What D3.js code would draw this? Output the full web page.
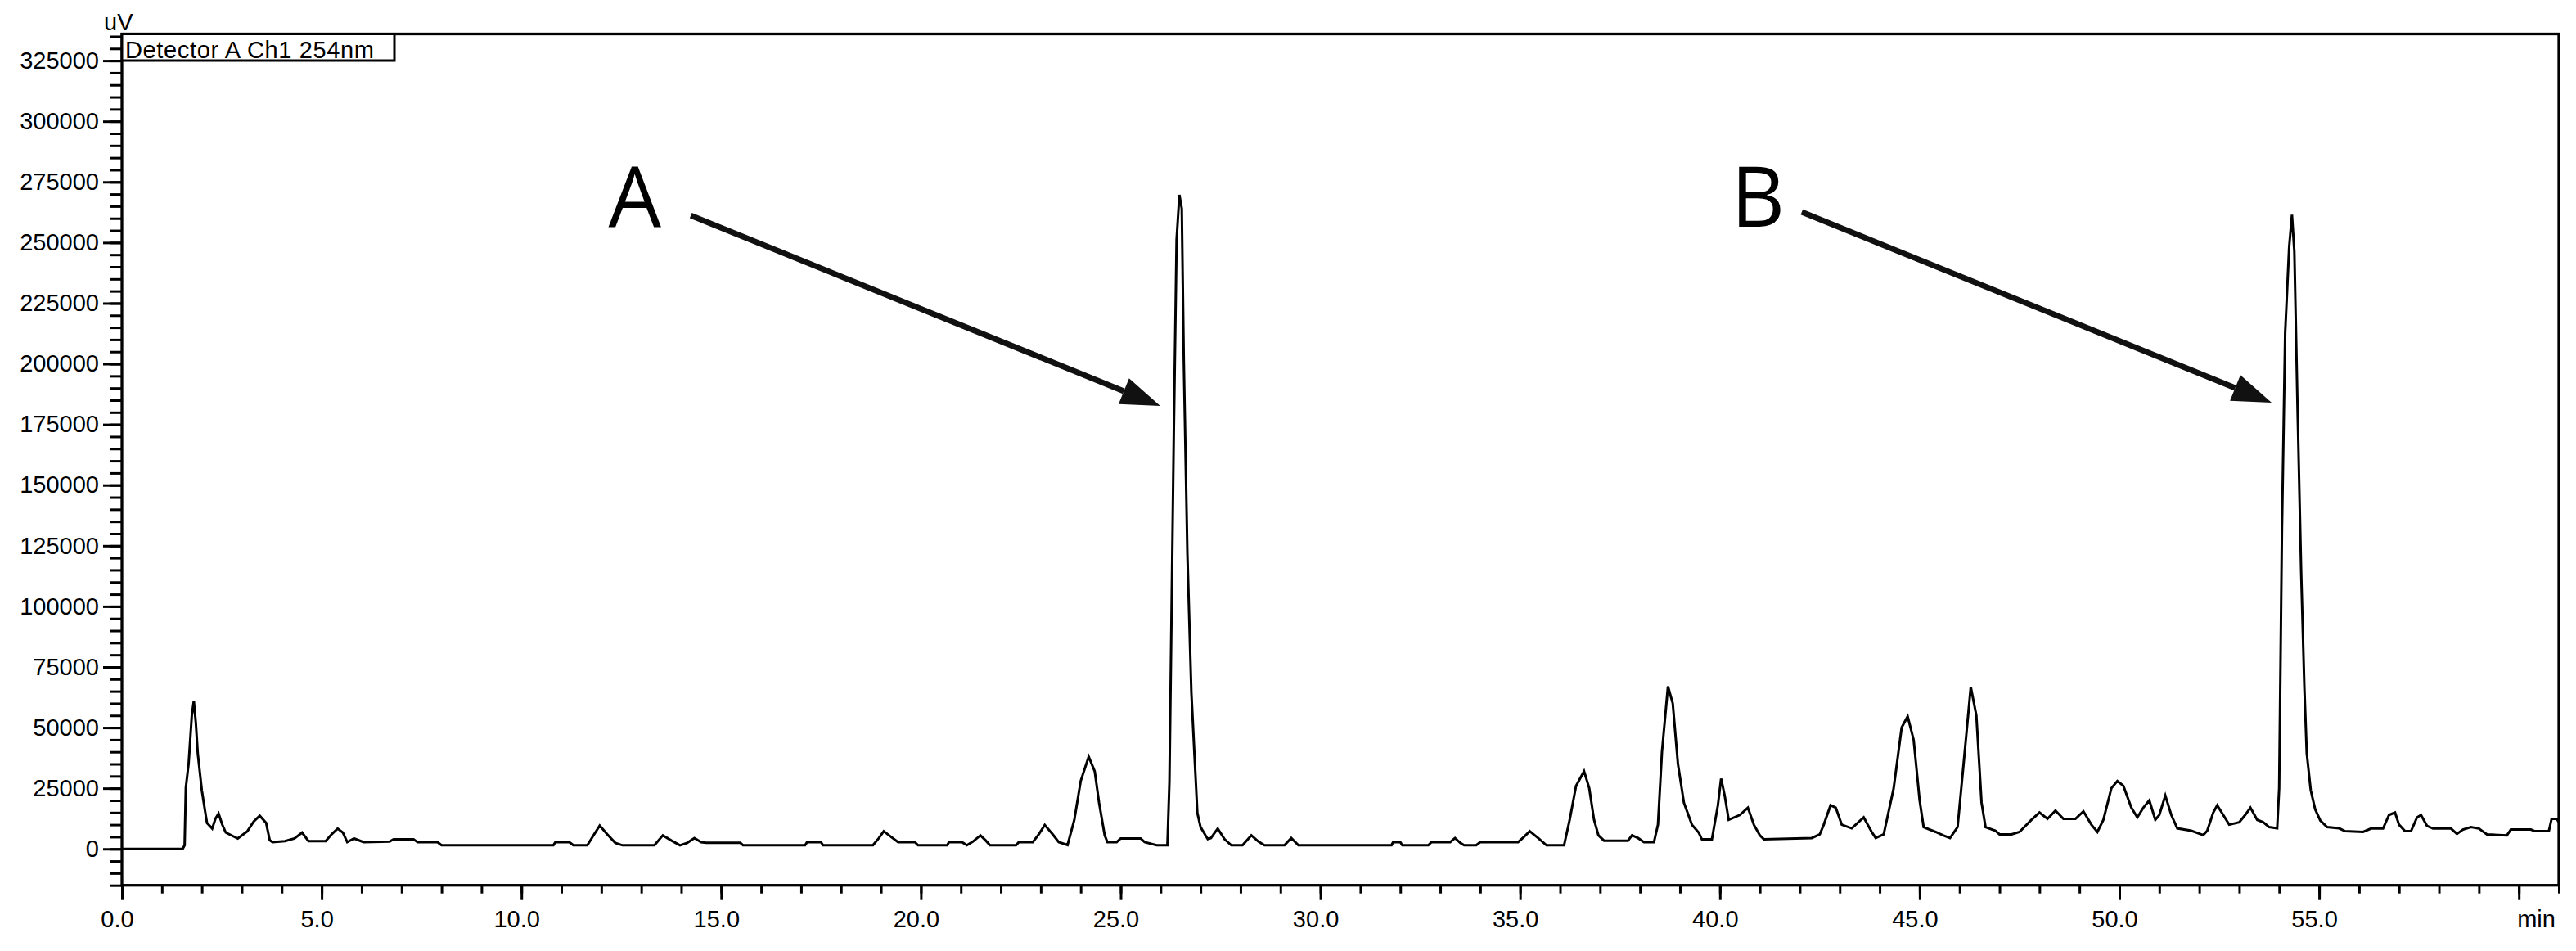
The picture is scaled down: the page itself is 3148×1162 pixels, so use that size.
<!DOCTYPE html>
<html>
<head>
<meta charset="utf-8">
<script src="https://cdn.jsdelivr.net/npm/d3@7"></script>
<style>
  body { margin: 0; background: #fff; }
  text { font-family: "Liberation Sans", Arial, sans-serif; fill: #000; }
</style>
</head>
<body>
<div id="chart"></div>
<script>
const width = 3148, height = 1162;

// retention time (min)
const times = [
  0, 1.52, 1.57, 1.60, 1.67, 1.75, 1.80, 1.85, 1.90, 2.00, 2.08, 2.13, 2.26, 2.34, 2.42, 2.51, 2.60, 2.90,
  3.14, 3.30, 3.45, 3.61, 3.70, 3.77, 4.08, 4.32, 4.51, 4.67, 5.10, 5.26, 5.40, 5.53, 5.64, 5.81, 6.05,
  6.70, 6.80, 7.30, 7.40, 7.90, 8.00, 10.80, 10.85, 11.20, 11.30, 11.65, 11.80, 11.96, 12.15, 12.35, 12.53,
  13.33, 13.54, 13.75, 13.97, 14.15, 14.33, 14.50, 14.62, 15.48, 15.55, 17.10, 17.15, 17.50, 17.55, 18.80,
  18.95, 19.07, 19.25, 19.43, 19.85, 19.93, 20.66, 20.70, 21.03, 21.15, 21.30, 21.49, 21.62, 21.73, 22.38,
  22.45, 22.80, 22.95, 23.10, 23.30, 23.45, 23.67, 23.84, 24.00, 24.20, 24.35, 24.46, 24.60, 24.67, 24.90,
  25.00, 25.50, 25.60, 25.90, 26.17, 26.22, 26.33, 26.40, 26.47, 26.53, 26.58, 26.67, 26.77, 26.87, 26.92,
  27.00, 27.18, 27.26, 27.43, 27.60, 27.77, 28.05, 28.27, 28.45, 28.60, 29.10, 29.27, 29.45, 31.78, 31.82,
  32.00, 32.05, 32.70, 32.78, 33.25, 33.37, 33.50, 33.60, 33.90, 34.00, 34.95, 35.10, 35.24, 35.45, 35.66,
  36.10, 36.24, 36.40, 36.60, 36.73, 36.85, 36.96, 37.10, 37.70, 37.80, 37.95, 38.10, 38.35, 38.45, 38.55,
  38.70, 38.82, 38.95, 39.10, 39.30, 39.47, 39.55, 39.80, 39.95, 40.03, 40.12, 40.22, 40.50, 40.70, 40.85,
  41.00, 41.10, 42.30, 42.50, 42.60, 42.77, 42.90, 43.05, 43.30, 43.60, 43.80, 43.90, 44.10, 44.35, 44.55,
  44.70, 44.85, 45.00, 45.10, 45.40, 45.60, 45.76, 45.95, 46.10, 46.28, 46.42, 46.55, 46.65, 46.90, 47.00,
  47.30, 47.50, 47.80, 48.00, 48.20, 48.40, 48.60, 48.90, 49.10, 49.30, 49.45, 49.60, 49.80, 49.95, 50.10,
  50.30, 50.45, 50.60, 50.75, 50.90, 51.00, 51.15, 51.30, 51.45, 51.80, 52.10, 52.20, 52.35, 52.45, 52.60,
  52.75, 53.00, 53.15, 53.28, 53.45, 53.60, 53.75, 53.95, 54.00, 54.07, 54.15, 54.25, 54.32, 54.38, 54.46,
  54.55, 54.63, 54.69, 54.79, 54.90, 55.03, 55.20, 55.50, 55.65, 56.10, 56.30, 56.60, 56.75, 56.90, 57.00,
  57.15, 57.30, 57.45, 57.55, 57.70, 57.85, 58.30, 58.45, 58.60, 58.80, 59.00, 59.20, 59.70, 59.80, 60.30,
  60.40, 60.75, 60.82, 60.95, 61.00
];

// detector signal (uV)
const signal = [
  0, 0, 1500, 25300, 35100, 55000, 61000, 52000, 39200, 24200, 15800, 10700, 8400, 12400, 14600, 10100, 6750, 4300,
  7300, 11300, 13700, 10700, 3600, 2800, 3200, 4300, 6750, 3200, 3200, 6200, 8400, 6750, 2800, 4300, 2800,
  3000, 4000, 4000, 2800, 2800, 1500, 1500, 2800, 2800, 1500, 1500, 5500, 9600, 6000, 2500, 1500,
  1500, 5600, 3500, 1500, 2500, 4500, 2800, 2500, 2500, 1500, 1500, 2800, 2800, 1500, 1500,
  4500, 7300, 5000, 2800, 2800, 1500, 1500, 2800, 2800, 1500, 3000, 5600, 3500, 1500, 1500,
  2800, 2800, 6000, 9900, 6000, 2800, 1600, 12000, 28000, 38000, 32000, 19000, 5600, 2800, 2800,
  4300, 4300, 2800, 1500, 1500, 27400, 171500, 251300, 269700, 264000, 201600, 121800, 64400, 31300, 14800,
  9000, 4050, 4500, 8400, 4000, 1500, 1500, 5600, 3000, 1500, 1500, 4500, 1500, 1500, 2800,
  2800, 1500, 1500, 2800, 2800, 4500, 2500, 1500, 1500, 2800, 2800, 5000, 7300, 4500, 1500,
  1500, 12000, 26000, 32000, 25000, 12000, 5600, 3400, 3400, 5600, 4500, 2800, 2800, 10000, 40000,
  67000, 60000, 35000, 19000, 10000, 6750, 3950, 3950, 18000, 29000, 22000, 12000, 14000, 17000, 10000,
  5600, 4000, 4500, 6000, 10000, 18000, 17000, 10000, 8500, 13000, 7000, 4500, 6000, 25000, 50000,
  54600, 45000, 20000, 9000, 7000, 5500, 4500, 9000, 35000, 66800, 55000, 19000, 9000, 7500, 6000,
  6000, 7000, 12000, 15000, 12400, 15800, 12400, 12400, 15500, 10000, 7000, 12000, 25000, 28000, 26000,
  17000, 13000, 17000, 20000, 12000, 14000, 22000, 14000, 8500, 7500, 5700, 7500, 15000, 18000, 14000,
  10000, 11000, 14000, 17000, 12000, 11000, 9000, 8500, 25000, 131900, 212800, 248200, 261500, 246300, 181400,
  114500, 67000, 39400, 24200, 16400, 11700, 9000, 8500, 7300, 7000, 8400, 8400, 14000, 15000, 10000,
  7300, 7300, 13000, 14000, 9500, 8400, 8400, 6200, 8000, 9000, 8400, 6000, 5600, 8000, 8000,
  7300, 7300, 12400, 12400, 11000
];

const xMajor = d3.range(0, 61, 5);          // 0.0 ... 60
const xMinor = d3.range(0, 62, 1);
const yMajor = d3.range(0, 325001, 25000);
const yMinor = d3.range(-15000, 335001, 5000);

// peak annotations (time, signal)
const labels = [
  { name: "A", t: 12.84, v: 256500, t0: 14.24, v0: 261200, t1: 25.99, v1: 182600 },
  { name: "B", t: 40.95, v: 256500, t0: 42.05, v0: 262600, t1: 53.81, v1: 184000 }
];

const x = d3.scaleLinear().domain([0, 61]).range([149, 3127]);
const y = d3.scaleLinear().domain([-15000, 336000]).range([1081.7, 41.5]);

const svg = d3.select("#chart").append("svg")
  .attr("width", width)
  .attr("height", height);

// frame
svg.append("rect")
  .attr("x", x(0)).attr("y", y(336000))
  .attr("width", x(61) - x(0)).attr("height", y(-15000) - y(336000))
  .attr("fill", "none").attr("stroke", "#000").attr("stroke-width", 3.3);

function styleAxis(g) {
  g.select(".domain").remove();
  g.selectAll(".tick line").attr("stroke", "#000").attr("stroke-width", 3);
  g.selectAll("text").style("font-size", "29px").attr("fill", "#000");
}

// y axis
svg.append("g").attr("transform", `translate(${x(0)},0)`)
  .call(d3.axisLeft(y).tickValues(yMinor).tickSize(15).tickFormat(""))
  .call(styleAxis);
svg.append("g").attr("transform", `translate(${x(0)},0)`)
  .call(d3.axisLeft(y).tickValues(yMajor).tickSize(23).tickPadding(5).tickFormat(d3.format("d")))
  .call(styleAxis);

// x axis
svg.append("g").attr("transform", `translate(0,${y(-15000)})`)
  .call(d3.axisBottom(x).tickValues(xMinor).tickSize(10).tickFormat(""))
  .call(styleAxis);
const xg = svg.append("g").attr("transform", `translate(0,${y(-15000)})`)
  .call(d3.axisBottom(x).tickValues(xMajor).tickSize(18).tickFormat(d => d === 60 ? "" : d3.format(".1f")(d)))
  .call(styleAxis);
xg.selectAll("text").attr("y", 51).attr("dy", 0).attr("x", -6);

svg.append("text")
  .attr("x", x(60) - 2).attr("y", y(-15000) + 51)
  .style("font-size", "29px")
  .text("min");

svg.append("text")
  .attr("x", 127).attr("y", 37)
  .style("font-size", "29px")
  .text("uV");

// legend box
svg.append("rect")
  .attr("x", x(0)).attr("y", y(336000))
  .attr("width", 333).attr("height", 32.5)
  .attr("fill", "#fff").attr("stroke", "#000").attr("stroke-width", 3);
svg.append("text")
  .attr("x", x(0) + 4).attr("y", y(336000) + 29.5)
  .attr("textLength", 304)
  .style("font-size", "29px")
  .text("Detector A Ch1 254nm");

// chromatogram trace
const line = d3.line()
  .x(d => x(d[0]))
  .y(d => y(d[1]));

svg.append("path")
  .datum(d3.zip(times, signal))
  .attr("fill", "none")
  .attr("stroke", "#000")
  .attr("stroke-width", 3)
  .attr("stroke-linejoin", "miter")
  .attr("d", line);

// annotations
const ann = svg.append("g");
labels.forEach(a => {
  ann.append("text")
    .attr("x", x(a.t)).attr("y", y(a.v))
    .attr("text-anchor", "middle")
    .style("font-family", "'Open Sans', sans-serif")
    .style("font-size", "102px")
    .attr("fill", "#1a1a1a")
    .text(a.name);

  const x0 = x(a.t0), y0 = y(a.v0), x1 = x(a.t1), y1 = y(a.v1);
  const ang = Math.atan2(y1 - y0, x1 - x0);
  const headLen = 48, headW = 17;
  const bx = x1 - headLen * Math.cos(ang), by = y1 - headLen * Math.sin(ang);
  ann.append("line")
    .attr("x1", x0).attr("y1", y0).attr("x2", bx).attr("y2", by)
    .attr("stroke", "#111").attr("stroke-width", 7);
  ann.append("path")
    .attr("d", `M${x1},${y1}L${bx - headW * Math.sin(ang)},${by + headW * Math.cos(ang)}L${bx + headW * Math.sin(ang)},${by - headW * Math.cos(ang)}Z`)
    .attr("fill", "#111");
});
</script>
</body>
</html>
